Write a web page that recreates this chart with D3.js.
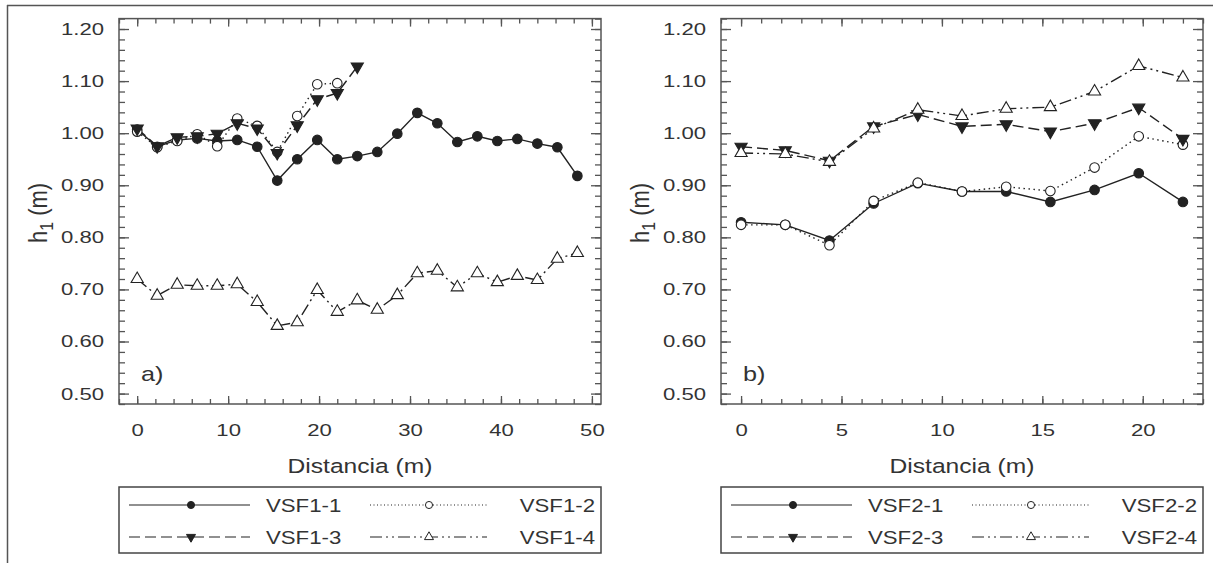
<!DOCTYPE html>
<html>
<head>
<meta charset="utf-8">
<script src="https://cdn.jsdelivr.net/npm/d3@7"></script>
<style>
  body { margin: 0; background: #fff; }
  text { font-family: "Liberation Sans", Arial, sans-serif; fill: #333; }
</style>
</head>
<body>
<svg id="chart" width="1213" height="563"></svg>
<script>
// ---- data ----
const distA = [0, 2.2, 4.4, 6.6, 8.8, 11, 13.2, 15.4, 17.6, 19.8, 22, 24.2, 26.4, 28.6, 30.8, 33, 35.2, 37.4, 39.6, 41.8, 44, 46.2, 48.4];
const vsf11 = [1.007, 0.974, 0.987, 0.990, 0.985, 0.987, 0.974, 0.909, 0.950, 0.987, 0.950, 0.956, 0.964, 0.999, 1.039, 1.019, 0.983, 0.994, 0.985, 0.989, 0.980, 0.973, 0.918];
const vsf12 = [1.003, 0.973, 0.985, 0.998, 0.975, 1.028, 1.014, 0.964, 1.033, 1.094, 1.096];
const vsf13 = [1.009, 0.975, 0.992, 0.994, 0.999, 1.019, 1.009, 0.962, 1.015, 1.065, 1.077, 1.128];
const vsf14 = [0.720, 0.688, 0.709, 0.707, 0.707, 0.710, 0.676, 0.630, 0.637, 0.699, 0.657, 0.679, 0.661, 0.689, 0.731, 0.736, 0.704, 0.731, 0.714, 0.726, 0.718, 0.759, 0.770];

const distB = [0, 2.2, 4.4, 6.6, 8.8, 11, 13.2, 15.4, 17.6, 19.8, 22];
const vsf21 = [0.829, 0.824, 0.794, 0.865, 0.904, 0.888, 0.888, 0.868, 0.891, 0.923, 0.868];
const vsf22 = [0.824, 0.824, 0.785, 0.870, 0.905, 0.888, 0.897, 0.889, 0.934, 0.994, 0.978];
const vsf23 = [0.974, 0.967, 0.947, 1.013, 1.036, 1.013, 1.017, 1.003, 1.019, 1.049, 0.989];
const vsf24 = [0.962, 0.960, 0.945, 1.009, 1.045, 1.033, 1.047, 1.050, 1.080, 1.129, 1.107];

const yTicks = [0.50, 0.60, 0.70, 0.80, 0.90, 1.00, 1.10, 1.20];
const xTicksA = [0, 10, 20, 30, 40, 50];
const xTicksB = [0, 5, 10, 15, 20];
const namesA = ['VSF1-1', 'VSF1-2', 'VSF1-3', 'VSF1-4'];
const namesB = ['VSF2-1', 'VSF2-2', 'VSF2-3', 'VSF2-4'];

// ---- styles ----
const ink = '#222';
const dashes = [null, '1.5,3.5', '11,5', '12,4,2,4,2,4'];
const marks = [
  {type: d3.symbolCircle, size: 72, fill: ink, rot: 0},
  {type: d3.symbolCircle, size: 72, fill: '#fff', rot: 0},
  {type: d3.symbolTriangle, size: 64, fill: ink, rot: 180},
  {type: d3.symbolTriangle, size: 64, fill: '#fff', rot: 0}
];
const TXT = 1.3; // the figure text is drawn a little wide

const svg = d3.select('#chart');

function stretch(sel, k) {
  sel.each(function () {
    const w = this.getComputedTextLength();
    d3.select(this).attr('textLength', w * k).attr('lengthAdjust', 'spacingAndGlyphs');
  });
}

// outer border of the figure cell
svg.append('line').attr('x1', 7).attr('x2', 1213).attr('y1', 5.5).attr('y2', 5.5)
  .attr('stroke', '#555').attr('stroke-width', 1.5);
svg.append('line').attr('x1', 7.5).attr('x2', 7.5).attr('y1', 5).attr('y2', 563)
  .attr('stroke', '#555').attr('stroke-width', 1.5);

function panel(cfg) {
  const top = 18.6, bottom = 404;
  const x = d3.scaleLinear().domain(cfg.xDomain).range([cfg.left, cfg.right]);
  const y = d3.scaleLinear().domain([0.48, 1.22]).range([bottom, top]);
  const g = svg.append('g');

  const yMinor = d3.range(0.48, 1.2201, 0.02);
  const xMinor = d3.range(cfg.xDomain[0], cfg.xDomain[1] + 0.001, cfg.xMinorStep);

  // inward ticks on all four sides
  const addAxis = (axis, tr) => {
    const a = g.append('g').attr('transform', tr).call(axis);
    a.select('.domain').remove();
    a.selectAll('line').attr('stroke', '#555').attr('stroke-width', 1.3);
    return a;
  };
  const yl = addAxis(d3.axisLeft(y).tickValues(yTicks).tickSize(-10).tickPadding(15).tickFormat(d3.format('.2f')),
    `translate(${cfg.left},0)`);
  addAxis(d3.axisLeft(y).tickValues(yMinor).tickSize(-6).tickFormat(''), `translate(${cfg.left},0)`);
  addAxis(d3.axisRight(y).tickValues(yTicks).tickSize(-10).tickFormat(''), `translate(${cfg.right},0)`);
  addAxis(d3.axisRight(y).tickValues(yMinor).tickSize(-6).tickFormat(''), `translate(${cfg.right},0)`);
  const xb = addAxis(d3.axisBottom(x).tickValues(cfg.xTicks).tickSize(-8).tickPadding(20).tickFormat(d3.format('d')),
    `translate(0,${bottom})`);
  addAxis(d3.axisBottom(x).tickValues(xMinor).tickSize(-5).tickFormat(''), `translate(0,${bottom})`);
  addAxis(d3.axisTop(x).tickValues(cfg.xTicks).tickSize(-8).tickFormat(''), `translate(0,${top})`);
  addAxis(d3.axisTop(x).tickValues(xMinor).tickSize(-5).tickFormat(''), `translate(0,${top})`);

  [yl, xb].forEach(a => a.selectAll('text')
    .attr('font-size', 17).attr('font-family', '"Liberation Sans", Arial, sans-serif').attr('fill', '#333')
    .call(stretch, TXT));

  // frame
  g.append('rect').attr('x', cfg.left).attr('y', top)
    .attr('width', cfg.right - cfg.left).attr('height', bottom - top)
    .attr('fill', 'none').attr('stroke', '#555').attr('stroke-width', 1.5);

  // series
  const line = d3.line().x(d => x(d[0])).y(d => y(d[1]));
  cfg.series.forEach((vals, i) => {
    const pts = vals.map((v, j) => [cfg.dist[j], v]);
    g.append('path').datum(pts).attr('d', line)
      .attr('fill', 'none').attr('stroke', ink).attr('stroke-width', 1.4)
      .attr('stroke-dasharray', dashes[i]);
  });
  cfg.series.forEach((vals, i) => {
    const m = marks[i];
    g.selectAll(null).data(vals.map((v, j) => [cfg.dist[j], v])).join('path')
      .attr('d', d3.symbol().type(m.type).size(m.size))
      .attr('transform', d => `translate(${x(d[0])},${y(d[1])}) rotate(${m.rot})`)
      .attr('fill', m.fill).attr('stroke', ink).attr('stroke-width', 1.1);
  });

  // titles
  g.append('text').attr('x', (cfg.left + cfg.right) / 2).attr('y', 473)
    .attr('text-anchor', 'middle').attr('font-size', 20.5).text('Distancia (m)')
    .call(stretch, 1.2);
  const yt = g.append('text')
    .attr('transform', `translate(${cfg.left - 72},213) rotate(-90) scale(1,1.2)`)
    .attr('text-anchor', 'middle').attr('font-size', 22);
  yt.append('tspan').text('h');
  yt.append('tspan').attr('font-size', 16).attr('dy', 5).text('1');
  yt.append('tspan').attr('dy', -5).text('\u00a0(m)');

  g.append('text').attr('x', cfg.left + 22).attr('y', 381).attr('font-size', 21).text(cfg.tag)
    .call(stretch, 1.2);

  // legend
  const lx = cfg.left, ly = 487, lw = cfg.right - cfg.left, lh = 66;
  g.append('rect').attr('x', lx).attr('y', ly).attr('width', lw).attr('height', lh)
    .attr('fill', 'none').attr('stroke', '#444').attr('stroke-width', 1.5);
  const slots = [
    {x1: 10, x2: 131, mx: 72, tx: 147, anchor: 'start', row: 0},
    {x1: 251, x2: 368, mx: 310, tx: 476, anchor: 'end', row: 0},
    {x1: 10, x2: 131, mx: 72, tx: 147, anchor: 'start', row: 1},
    {x1: 251, x2: 368, mx: 310, tx: 476, anchor: 'end', row: 1}
  ];
  cfg.names.forEach((name, i) => {
    const s = slots[i];
    const yy = ly + 18 + s.row * 32;
    g.append('line').attr('x1', lx + s.x1).attr('x2', lx + s.x2).attr('y1', yy).attr('y2', yy)
      .attr('stroke', ink).attr('stroke-width', 1.2).attr('stroke-dasharray', dashes[i] && (i === 1 ? '1,2.5' : dashes[i]));
    const m = marks[i];
    g.append('path').attr('d', d3.symbol().type(m.type).size(m.size * 0.55))
      .attr('transform', `translate(${lx + s.mx},${yy}) rotate(${m.rot})`)
      .attr('fill', m.fill).attr('stroke', ink).attr('stroke-width', 1);
    g.append('text').attr('x', lx + s.tx).attr('y', yy + 6.5).attr('text-anchor', s.anchor)
      .attr('font-size', 18.5).text(name).call(stretch, 1.2);
  });
}

panel({
  left: 119, right: 601, xDomain: [-2, 51], xMinorStep: 2, xTicks: xTicksA,
  dist: distA, series: [vsf11, vsf12, vsf13, vsf14], names: namesA, tag: 'a)'
});
panel({
  left: 721, right: 1203, xDomain: [-1, 23], xMinorStep: 1, xTicks: xTicksB,
  dist: distB, series: [vsf21, vsf22, vsf23, vsf24], names: namesB, tag: 'b)'
});
</script>
</body>
</html>
